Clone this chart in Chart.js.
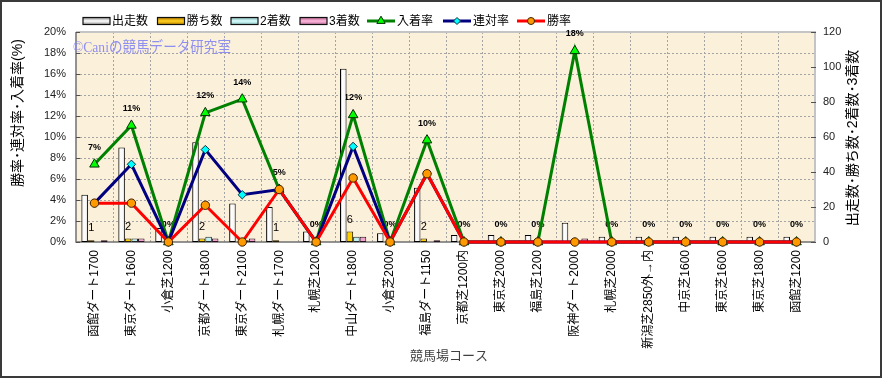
<!DOCTYPE html>
<html>
<head>
<meta charset="utf-8">
<style>
html,body{margin:0;padding:0;background:#fff;}
#wrap{width:882px;height:378px;position:relative;}
canvas{display:block;}
</style>
<script src="https://cdn.jsdelivr.net/npm/chart.js"></script>
</head>
<body>
<div id="wrap"><canvas id="c" width="882" height="378"></canvas></div>
<script>
// ---- data ----
const categories = ['函館ダート1700','東京ダート1600','小倉芝1200','京都ダート1800','東京ダート2100','札幌ダート1700','札幌芝1200','中山ダート1800','小倉芝2000','福島ダート1150','京都芝1200内','東京芝2000','福島芝1200','阪神ダート2000','札幌芝2000','新潟芝2850外→内','中京芝1600','東京芝1600','東京芝1800','函館芝1200'];
const starts  = [27,54,8,57,22,20,6,99,5,31,4,4,4,11,3,3,3,3,3,3];
const wins    = [1,2,0,2,0,1,0,6,0,2,0,0,0,0,0,0,0,0,0,0];
const seconds = [0,2,0,3,1,0,0,3,0,0,0,0,0,0,0,0,0,0,0,0];
const thirds  = [1,2,0,2,2,0,0,3,0,1,0,0,0,2,0,0,0,0,0,0];
const placeRate = [7.4,11.1,0,12.3,13.6,5.0,0,12.1,0,9.7,0,0,0,18.2,0,0,0,0,0,0];
const quinRate  = [3.7,7.4,0,8.8,4.5,5.0,0,9.1,0,6.5,0,0,0,0,0,0,0,0,0,0];
const winRate   = [3.7,3.7,0,3.5,0,5.0,0,6.1,0,6.5,0,0,0,0,0,0,0,0,0,0];
const rateTicks  = [0,2,4,6,8,10,12,14,16,18,20];
const countTicks = [0,20,40,60,80,100,120];

// ---- style ----
const JP = '"Liberation Sans","Noto Sans CJK JP",sans-serif';
const CAT_PCT = 0.71;

function startsFill(c){
  const chart = c.chart, xs = chart.scales && chart.scales.x;
  if (!xs || c.dataIndex === undefined || !xs.width) return '#f4f4f4';
  const cw = xs.width / categories.length * CAT_PCT, slot = cw / 4;
  const left = xs.getPixelForValue(c.dataIndex) - cw / 2;
  const g = chart.ctx.createLinearGradient(left, 0, left + slot, 0);
  g.addColorStop(0, '#9c9c9c');
  g.addColorStop(0.35, '#ffffff');
  g.addColorStop(0.75, '#f6f6f6');
  g.addColorStop(1, '#c4c4c4');
  return g;
}

const barCommon = {type:'bar', yAxisID:'y2', categoryPercentage:CAT_PCT, barPercentage:1.0,
  borderWidth:1, borderSkipped:false};

const datasets = [
  Object.assign({}, barCommon, {label:'出走数', data:starts, backgroundColor:startsFill, borderColor:'#000', order:4, legendFill:['#8a8a8a','#ffffff','#9a9a9a']}),
  Object.assign({}, barCommon, {label:'勝ち数', data:wins, backgroundColor:'#FFCC00', borderColor:'#2a2000', order:5, legendFill:['#b07800','#ffd020','#c08800']}),
  Object.assign({}, barCommon, {label:'2着数', data:seconds, backgroundColor:'#BDF2F2', borderColor:'#202828', order:6, legendFill:['#7fb0b0','#d8ffff','#8cc0c0']}),
  Object.assign({}, barCommon, {label:'3着数', data:thirds, backgroundColor:'#F2A2CC', borderColor:'#281020', order:7, legendFill:['#b86090','#ffb8dc','#c070a0']}),
  {type:'line', label:'入着率', data:placeRate, yAxisID:'y', order:3, borderColor:'#008000', borderWidth:3, tension:0,
    pointStyle:'triangle', pointRadius:5.5, pointBackgroundColor:'#00FF00', pointBorderColor:'#003000', pointBorderWidth:1, clip:false},
  {type:'line', label:'連対率', data:quinRate, yAxisID:'y', order:2, borderColor:'#000080', borderWidth:3, tension:0,
    pointStyle:'rectRot', pointRadius:4.2, pointBackgroundColor:'#00FFFF', pointBorderColor:'#003040', pointBorderWidth:1, clip:false},
  {type:'line', label:'勝率', data:winRate, yAxisID:'y', order:1, borderColor:'#FF0000', borderWidth:3, tension:0,
    pointStyle:'circle', pointRadius:4.2, pointBackgroundColor:'#FF9900', pointBorderColor:'#402000', pointBorderWidth:1, clip:false}
];

const deco = {
  id:'deco',
  beforeDraw(chart){
    const ctx = chart.ctx, a = chart.chartArea;
    ctx.save();
    ctx.fillStyle = '#ffffff';
    ctx.fillRect(0,0,chart.width,chart.height);
    ctx.fillStyle = '#FBF0DA';
    ctx.fillRect(a.left, a.top, a.right-a.left, a.bottom-a.top);
    ctx.restore();
  },
  beforeDatasetsDraw(chart){
    const ctx = chart.ctx, a = chart.chartArea, xs = chart.scales.x, ys = chart.scales.y, y2 = chart.scales.y2;
    ctx.save();
    // grid
    ctx.strokeStyle = '#A4A4A4';
    ctx.lineWidth = 1;
    ctx.setLineDash([2,2]);
    rateTicks.forEach(v => {
      if (v === 0 || v === 20) return;
      const y = Math.round(ys.getPixelForValue(v)) + 0.5;
      ctx.beginPath(); ctx.moveTo(a.left, y); ctx.lineTo(a.right, y); ctx.stroke();
    });
    for (let i = 1; i < categories.length; i++){
      const x = Math.round((xs.getPixelForValue(i-1) + xs.getPixelForValue(i))/2) + 0.5;
      ctx.beginPath(); ctx.moveTo(x, a.top); ctx.lineTo(x, a.bottom); ctx.stroke();
    }
    ctx.setLineDash([]);
    // frame
    ctx.strokeStyle = '#C4C4C4';
    ctx.lineWidth = 2;
    ctx.beginPath(); ctx.moveTo(a.left, a.top); ctx.lineTo(a.right, a.top); ctx.lineTo(a.right, a.bottom); ctx.stroke();
    ctx.strokeStyle = '#707070';
    ctx.lineWidth = 1.5;
    ctx.beginPath(); ctx.moveTo(a.left, a.top); ctx.lineTo(a.left, a.bottom); ctx.lineTo(a.right, a.bottom); ctx.stroke();
    // tick marks
    ctx.lineWidth = 1;
    ctx.strokeStyle = '#505050';
    rateTicks.forEach(v => {
      const y = Math.round(ys.getPixelForValue(v)) + 0.5;
      ctx.beginPath(); ctx.moveTo(a.left, y); ctx.lineTo(a.left + 4, y); ctx.stroke();
    });
    countTicks.forEach(v => {
      const y = Math.round(y2.getPixelForValue(v)) + 0.5;
      ctx.beginPath(); ctx.moveTo(a.right - 4, y); ctx.lineTo(a.right + 1, y); ctx.stroke();
    });
    // watermark
    ctx.fillStyle = '#8F8FF0';
    ctx.font = '15px "Liberation Serif","Noto Sans CJK JP",serif';
    ctx.textAlign = 'left';
    ctx.textBaseline = 'middle';
    ctx.fillText('©Caniの競馬データ研究室', a.left - 3, a.top + 16, 158);
    // rate labels (under bars)
    const meta = chart.getDatasetMeta(4);
    ctx.fillStyle = '#000';
    ctx.font = 'bold 9px "Liberation Sans",sans-serif';
    ctx.textAlign = 'center';
    meta.data.forEach((el, i) => {
      ctx.fillText(Math.round(placeRate[i]) + '%', el.x, el.y - 17);
    });
    ctx.restore();
  },
  afterDatasetsDraw(chart){
    const ctx = chart.ctx;
    const meta = chart.getDatasetMeta(1);
    ctx.save();
    ctx.fillStyle = '#000';
    ctx.font = '11px "Liberation Sans",sans-serif';
    ctx.textAlign = 'center';
    ctx.textBaseline = 'middle';
    meta.data.forEach((el, i) => {
      if (wins[i] > 0) ctx.fillText(String(wins[i]), el.x, el.y - 12);
    });
    ctx.restore();
  },
  afterDraw(chart){
    const ctx = chart.ctx;
    ctx.save();
    // legend
    const ds = chart.data.datasets;
    const boxX = [83, 157.5, 231, 300];
    const lineX = [367, 443, 517];
    const ly = 21;
    ctx.font = '12px ' + JP;
    ctx.textBaseline = 'middle';
    ctx.textAlign = 'left';
    for (let k = 0; k < 4; k++){
      const d = ds[k], x = boxX[k];
      const g = ctx.createLinearGradient(0, ly-3.5, 0, ly+3.5);
      g.addColorStop(0, d.legendFill[0]); g.addColorStop(0.5, d.legendFill[1]); g.addColorStop(1, d.legendFill[2]);
      ctx.fillStyle = g;
      ctx.fillRect(x, ly-3.5, 27, 7);
      ctx.strokeStyle = '#101010';
      ctx.lineWidth = 1.2;
      ctx.strokeRect(x, ly-3.5, 27, 7);
      ctx.fillStyle = '#000';
      ctx.fillText(d.label, x + 29, ly + 0.5);
    }
    for (let k = 0; k < 3; k++){
      const d = ds[4+k], x = lineX[k];
      ctx.strokeStyle = d.borderColor;
      ctx.lineWidth = 3;
      ctx.beginPath(); ctx.moveTo(x, ly); ctx.lineTo(x + 28, ly); ctx.stroke();
      ctx.fillStyle = d.pointBackgroundColor;
      ctx.strokeStyle = d.pointBorderColor;
      ctx.lineWidth = 1;
      Chart.helpers.drawPoint(ctx, {pointStyle:d.pointStyle, radius:d.pointRadius - 0.7, borderWidth:1, rotation:0}, x + 14, ly);
      ctx.fillStyle = '#000';
      ctx.fillText(d.label, x + 30, ly + 0.5);
    }
    // axis titles
    ctx.fillStyle = '#000';
    ctx.font = '14px ' + JP;
    ctx.textAlign = 'center';
    ctx.textBaseline = 'middle';
    ctx.save(); ctx.translate(18, 113); ctx.rotate(-Math.PI/2); ctx.fillText('勝率･連対率･入着率(%)', 0, 0); ctx.restore();
    ctx.save(); ctx.translate(853, 138); ctx.rotate(-Math.PI/2); ctx.fillText('出走数･勝ち数･2着数･3着数', 0, 0, 190); ctx.restore();
    ctx.fillStyle = '#404040';
    ctx.font = '13px ' + JP;
    ctx.fillText('競馬場コース', 449, 356);
    // outer border
    ctx.strokeStyle = '#3A3A3A';
    ctx.lineWidth = 2;
    ctx.strokeRect(1, 1, chart.width - 2, chart.height - 2);
    ctx.restore();
  }
};

new Chart(document.getElementById('c'), {
  type:'bar',
  data:{labels:categories, datasets:datasets},
  options:{
    responsive:false,
    animation:false,
    devicePixelRatio:1,
    layout:{padding:{top:32, left:0, right:0, bottom:0}},
    plugins:{legend:{display:false}, tooltip:{enabled:false}},
    scales:{
      x:{type:'category', offset:true,
        grid:{display:false, drawTicks:false}, border:{display:false},
        ticks:{autoSkip:false, minRotation:90, maxRotation:90, padding:8, color:'#000', font:{size:12, family:JP}},
        afterFit(s){ s.height = 136; }
      },
      y:{position:'left', min:0, max:20,
        afterBuildTicks(s){ s.ticks = rateTicks.map(v => ({value:v})); },
        grid:{display:false, drawTicks:false}, border:{display:false},
        ticks:{padding:10, color:'#222', font:{size:11, family:JP}, callback:v => v + '%'},
        afterFit(s){ s.width = 76; }
      },
      y2:{position:'right', min:0, max:120,
        afterBuildTicks(s){ s.ticks = countTicks.map(v => ({value:v})); },
        grid:{display:false, drawTicks:false, drawOnChartArea:false}, border:{display:false},
        ticks:{padding:8, color:'#222', font:{size:11, family:JP}},
        afterFit(s){ s.width = 67; }
      }
    }
  },
  plugins:[deco]
});
</script>
</body>
</html>
